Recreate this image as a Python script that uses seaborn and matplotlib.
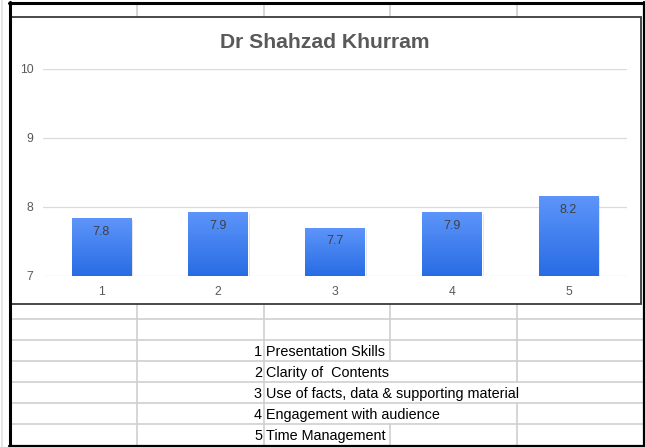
import matplotlib.pyplot as plt
import matplotlib.patheffects as pe
import numpy as np
import pandas as pd
import seaborn as sns
from matplotlib.patches import Rectangle

title = 'Dr Shahzad Khurram'
categories = ['1', '2', '3', '4', '5']
scores = [7.84, 7.93, 7.70, 7.93, 8.16]
score_labels = ['7.8', '7.9', '7.7', '7.9', '8.2']
criteria = ['Presentation Skills', 'Clarity of  Contents',
            'Use of facts, data & supporting material',
            'Engagement with audience', 'Time Management']
y_ticks = [7, 8, 9, 10]

sns.set_theme(style='white')
plt.rcParams['font.family'] = ['Liberation Sans', 'DejaVu Sans']

W, H = 645, 447
fig = plt.figure(figsize=(W / 100, H / 100), dpi=100)
fig.patch.set_facecolor('white')

# --- spreadsheet background, drawn in pixel coords --- #
bg = fig.add_axes([0, 0, 1, 1])
bg.set_xlim(0, W)
bg.set_ylim(H, 0)
bg.axis('off')

grid_c = '#d0d0d0'
cols = [137, 264, 390, 517]
rows = [304, 319, 340, 361, 382, 403, 424, 445]

# column outside the frame
bg.plot([2, 2], [0, H], color='#e0e0e0', lw=1.2)

# top strip above the chart
for x in cols:
    bg.plot([x, x], [3, 17], color=grid_c, lw=1.2)

# table rows below the chart
spans = [1, 2, 3, 2, 1]
for y in rows[1:-1]:
    bg.plot([10, 643], [y, y], color=grid_c, lw=1.2)
for r in range(len(rows) - 1):
    y0, y1 = rows[r], rows[r + 1]
    span = spans[r - 2] if r >= 2 else 1
    for j, x in enumerate(cols):
        if j >= 2 and j - 1 < span:
            continue
        bg.plot([x, x], [y0, y1], color=grid_c, lw=1.2)

for i, (num, name) in enumerate(zip(categories, criteria)):
    yc = (rows[i + 2] + rows[i + 3]) / 2 + 1.5
    bg.text(262, yc, num, ha='right', va='center', fontsize=10.4, color='black')
    bg.text(266, yc, name, ha='left', va='center', fontsize=10.4, color='black')

# chart box
bg.add_patch(Rectangle((11, 17), 630, 287, facecolor='white', edgecolor='#3a3a3a',
                       lw=1.3, zorder=3))

# outer black frame
bg.plot([9.5, 9.5], [2, 446], color='black', lw=2.2, zorder=5)
bg.plot([643.5, 643.5], [2, 446], color='black', lw=1.6, zorder=5)
bg.plot([9, 644], [2.5, 2.5], color='black', lw=2.2, zorder=5)
bg.plot([9, 644], [445.5, 445.5], color='black', lw=1.6, zorder=5)

bg.text(325, 42, title, ha='center', va='center', fontsize=15.2, fontweight='bold',
        color='#595959', zorder=6)

# --- the chart itself --- #
ax = fig.add_axes([43 / W, (H - 276) / H, (627 - 43) / W, (276 - 69) / H])
ax.patch.set_alpha(0)

df = pd.DataFrame({'criterion': categories, 'score': scores})
sns.barplot(data=df, x='criterion', y='score', color='#3b80f5', width=0.51,
            saturation=1, ax=ax)

top_c = np.array([0x5e, 0x95, 0xfa]) / 255
bot_c = np.array([0x28, 0x6c, 0xe4]) / 255
t = np.linspace(0, 1, 100)[:, None, None]
grad = top_c * (1 - t) + bot_c * t

for p, lab in zip(ax.patches, score_labels):
    p.set_path_effects([pe.SimplePatchShadow(offset=(1.5, -1.5), alpha=0.25,
                                             shadow_rgbFace='#808080'),
                        pe.Normal()])
    x0, w, h = p.get_x(), p.get_width(), p.get_height()
    im = ax.imshow(grad, extent=[x0, x0 + w, 7, h], aspect='auto', zorder=3)
    im.set_clip_path(p)
    ax.text(x0 + w / 2, h - 0.2, lab, ha='center', va='center', fontsize=9,
            color='#404040', zorder=4)

ax.set_xlim(-0.5, 4.5)
ax.set_ylim(7, 10)
ax.set_yticks(y_ticks)
ax.yaxis.grid(True, color='#dadada', lw=0.9)
ax.set_axisbelow(True)
ax.tick_params(length=0, labelsize=8.8, labelcolor='#595959', pad=7)
ax.set_xlabel('')
ax.set_ylabel('')
sns.despine(ax=ax, left=True, bottom=True)

fig.savefig('out.png', dpi=100)
